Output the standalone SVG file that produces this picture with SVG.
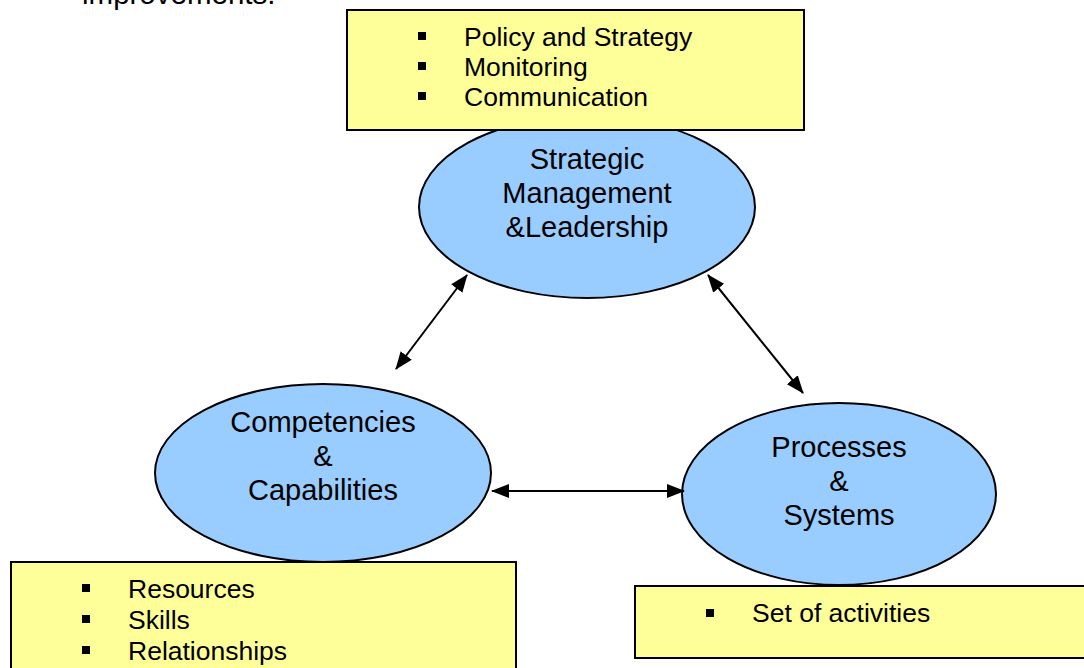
<svg xmlns="http://www.w3.org/2000/svg" width="1084" height="668" viewBox="0 0 1084 668">
<style>
text{font-family:"Liberation Sans",Arial,sans-serif;fill:#000}
.b{font-size:26.5px}
.e{font-size:29px;text-anchor:middle}
.box{fill:#FFFF99;stroke:#000;stroke-width:2}
.ell{fill:#99CCFF;stroke:#000;stroke-width:2}
.sq{fill:#000}
.con{stroke:#000;stroke-width:2;fill:none;marker-start:url(#ah);marker-end:url(#ah)}
</style>
<defs>
<marker id="ah" viewBox="0 0 18 14" refX="17" refY="7" markerWidth="18" markerHeight="14" markerUnits="userSpaceOnUse" orient="auto-start-reverse">
<path d="M0,0 L18,7 L0,14 Z" fill="#000"/>
</marker>
</defs>
<text x="82" y="4" style="font-size:29.5px">improvements.</text>
<g id="n-strategic">
<ellipse class="ell" cx="587" cy="207" rx="168" ry="91"/>
<text class="e" x="587" y="169">Strategic</text>
<text class="e" x="587" y="203">Management</text>
<text class="e" x="587" y="237">&amp;Leadership</text>
</g>
<g id="n-box-top">
<rect class="box" x="347" y="10" width="457" height="120"/>
<rect class="sq" x="418" y="32" width="8" height="8"/>
<rect class="sq" x="418" y="62" width="8" height="8"/>
<rect class="sq" x="418" y="92" width="8" height="8"/>
<text class="b" x="464" y="46">Policy and Strategy</text>
<text class="b" x="464" y="76">Monitoring</text>
<text class="b" x="464" y="106">Communication</text>
</g>
<g id="n-competencies">
<ellipse class="ell" cx="323" cy="473" rx="168" ry="89"/>
<text class="e" x="323" y="432">Competencies</text>
<text class="e" x="323" y="466">&amp;</text>
<text class="e" x="323" y="500">Capabilities</text>
</g>
<g id="n-processes">
<ellipse class="ell" cx="839" cy="494" rx="157" ry="91"/>
<text class="e" x="839" y="457">Processes</text>
<text class="e" x="839" y="491">&amp;</text>
<text class="e" x="839" y="525">Systems</text>
</g>
<g id="n-box-left">
<rect class="box" x="11" y="562" width="505" height="120"/>
<rect class="sq" x="82" y="584" width="8" height="8"/>
<rect class="sq" x="82" y="615" width="8" height="8"/>
<rect class="sq" x="82" y="646" width="8" height="8"/>
<text class="b" x="128" y="598">Resources</text>
<text class="b" x="128" y="629">Skills</text>
<text class="b" x="128" y="660">Relationships</text>
</g>
<g id="n-box-right">
<rect class="box" x="635" y="586" width="470" height="72"/>
<rect class="sq" x="706" y="609" width="8" height="8"/>
<text class="b" x="752" y="622">Set of activities</text>
</g>
<g id="connectors">
<line class="con" x1="396" y1="369" x2="467" y2="275"/>
<line class="con" x1="708" y1="275" x2="803" y2="393"/>
<line class="con" x1="492" y1="491" x2="684" y2="491"/>
</g>
</svg>
